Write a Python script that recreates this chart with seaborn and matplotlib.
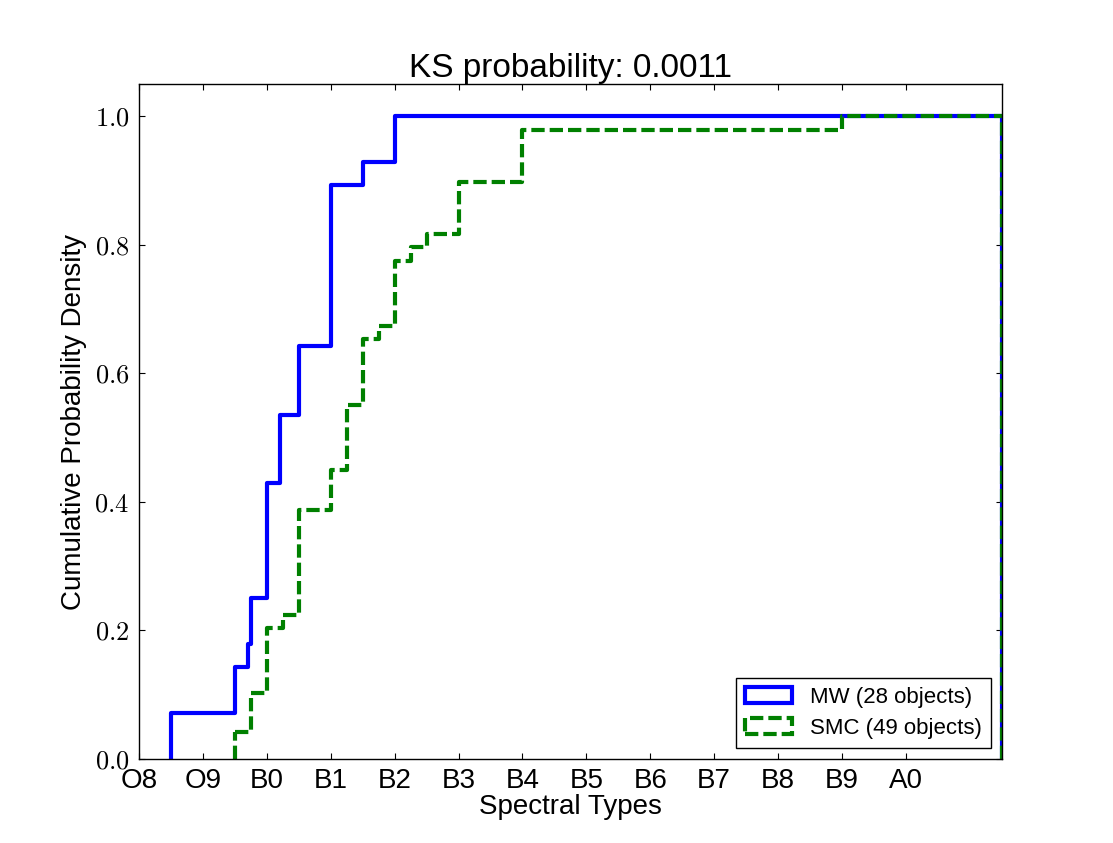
import numpy as np
import matplotlib
matplotlib.use("Agg")
import matplotlib.pyplot as plt
from matplotlib.patches import Patch
from matplotlib.ticker import FuncFormatter
import seaborn as sns

# Spectral types on a numeric scale: O8 = 0, O9 = 1, B0 = 2, ..., A0 = 12
type_labels = ["O8", "O9", "B0", "B1", "B2", "B3", "B4", "B5", "B6", "B7", "B8", "B9", "A0"]

# MW sample (28 objects): spectral type value and number of objects
mw_types = [0.5, 1.5, 1.7, 1.75, 2.0, 2.2, 2.5, 3.0, 3.5, 4.0]
mw_counts = [2, 2, 1, 2, 5, 3, 3, 7, 1, 2]

# SMC sample (49 objects)
smc_types = [1.5, 1.75, 2.0, 2.25, 2.5, 3.0, 3.25, 3.5, 3.75, 4.0, 4.25, 4.5, 5.0, 6.0, 11.0]
smc_counts = [2, 3, 5, 1, 8, 3, 5, 5, 1, 5, 1, 1, 4, 4, 1]

ks_prob = 0.0011

mw = np.repeat(mw_types, mw_counts)
smc = np.repeat(smc_types, smc_counts)

sns.set_style("ticks", {"text.color": "black", "axes.labelcolor": "black",
                        "xtick.color": "black", "ytick.color": "black",
                        "axes.edgecolor": "black"})
plt.rcParams["font.family"] = ["Liberation Sans", "DejaVu Sans"]
plt.rcParams["mathtext.fontset"] = "cm"
plt.rcParams["axes.linewidth"] = 1.0

fig = plt.figure(figsize=(11.13, 8.43), dpi=100)
ax = fig.add_axes([0.125, 0.1, 0.775, 0.8])

# fine bins so each step sits at the object's spectral type
edges = np.round(np.arange(271) * 0.05, 2)
dash = (0, (3.2, 1.2))

for vals, col, ls in [(mw, "blue", "-"), (smc, "green", dash)]:
    bins = edges[edges >= vals.min()]
    sns.histplot(x=vals, bins=bins, stat="proportion", cumulative=True,
                 element="step", fill=False, color=col, lw=3,
                 linestyle=ls, ax=ax)
    # the step outline rises from zero at the first edge and drops back at the last
    first = np.mean(vals == vals.min())
    ax.vlines([bins[0], bins[-1]], 0, [first, 1], color=col, lw=3, linestyles=[ls])

ax.set_xlim(0, edges[-1])
ax.set_ylim(0, 1.05)
ax.set_xticks(range(len(type_labels)))
ax.set_xticklabels(type_labels, fontsize=20)
ax.set_yticks(np.arange(0, 1.01, 0.2))
ax.yaxis.set_major_formatter(FuncFormatter(lambda v, p: r"$%.1f$" % v))
ax.tick_params(axis="y", labelsize=19)
ax.tick_params(direction="in", top=True, right=True, length=4, width=0.8, pad=7)

ax.set_title("KS probability: %.4f" % ks_prob, fontsize=24, pad=5)
ax.set_xlabel("Spectral Types", fontsize=20, labelpad=0)
ax.set_ylabel("Cumulative Probability Density", fontsize=20, labelpad=5)

handles = [
    Patch(facecolor="white", edgecolor="blue", lw=3, label="MW (%d objects)" % len(mw)),
    Patch(facecolor="white", edgecolor="green", lw=3, linestyle=dash,
          label="SMC (%d objects)" % len(smc)),
]
leg = ax.legend(handles=handles, loc="lower right", fontsize=16, fancybox=False,
                framealpha=1, edgecolor="black", handlelength=2.1,
                handletextpad=0.8, borderaxespad=0.5, borderpad=0.4,
                labelspacing=0.45)
leg.get_frame().set_linewidth(1.0)

fig.savefig("out.png", dpi=100)
